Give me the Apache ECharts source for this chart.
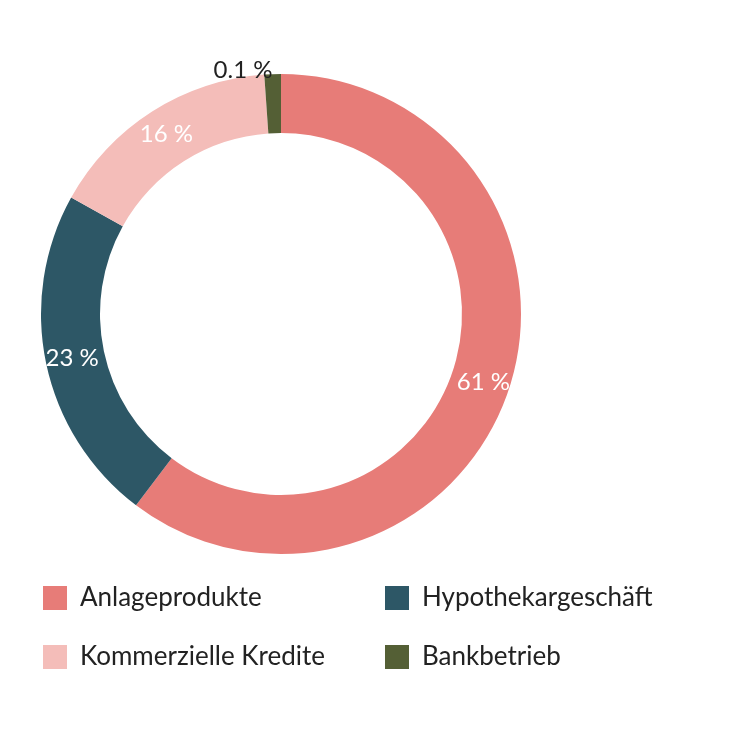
<!DOCTYPE html>
<html><head><meta charset="utf-8">
<script src="https://cdn.jsdelivr.net/npm/echarts@6/dist/echarts.min.js"></script>
<style>html,body{margin:0;padding:0;background:#fff}#c{width:738px;height:738px}</style>
</head><body><div id="c"></div>
<script>
const categories = ['Anlageprodukte','Hypothekargeschäft','Kommerzielle Kredite','Bankbetrieb'];
const values = [61, 23, 16, 0.1];
const labelTexts = ['61 %','23 %','16 %','0.1 %'];
const colors = ['#e77c78','#2d5766','#f4bdb9','#545f35'];
const chart = echarts.init(document.getElementById('c'));
const font = 'Lato';
chart.setOption({
  animation:false,
  color: colors,
  legend:[
    {data:[categories[0],categories[2]], orient:'vertical', left:38, top:580, itemWidth:24, itemHeight:24, itemGap:33,
     icon:'rect', textStyle:{fontSize:26, fontFamily:font, color:'#222', padding:[0,0,0,8]}},
    {data:[categories[1],categories[3]], orient:'vertical', left:380, top:580, itemWidth:24, itemHeight:24, itemGap:33,
     icon:'rect', textStyle:{fontSize:26, fontFamily:font, color:'#222', padding:[0,0,0,8]}}
  ],
  series:[{
    type:'pie', center:[281,314], radius:[181,240], startAngle:90, clockwise:true,
    minAngle:4, avoidLabelOverlap:false,
    label:{show:true, position:'inside', color:'#fff', fontSize:24, fontFamily:font,
      formatter:p=>labelTexts[p.dataIndex]},
    labelLine:{show:false},
    emphasis:{disabled:true},
    data: categories.map((n,i)=>{
      const d={name:n,value:values[i]};
      if(i===3) d.label={position:'outside', color:'#222', distanceToLabelLine:0};
      if(i===3) d.labelLine={show:false,length:4,length2:0};
      return d;
    })
  }]
});
</script></body></html>
